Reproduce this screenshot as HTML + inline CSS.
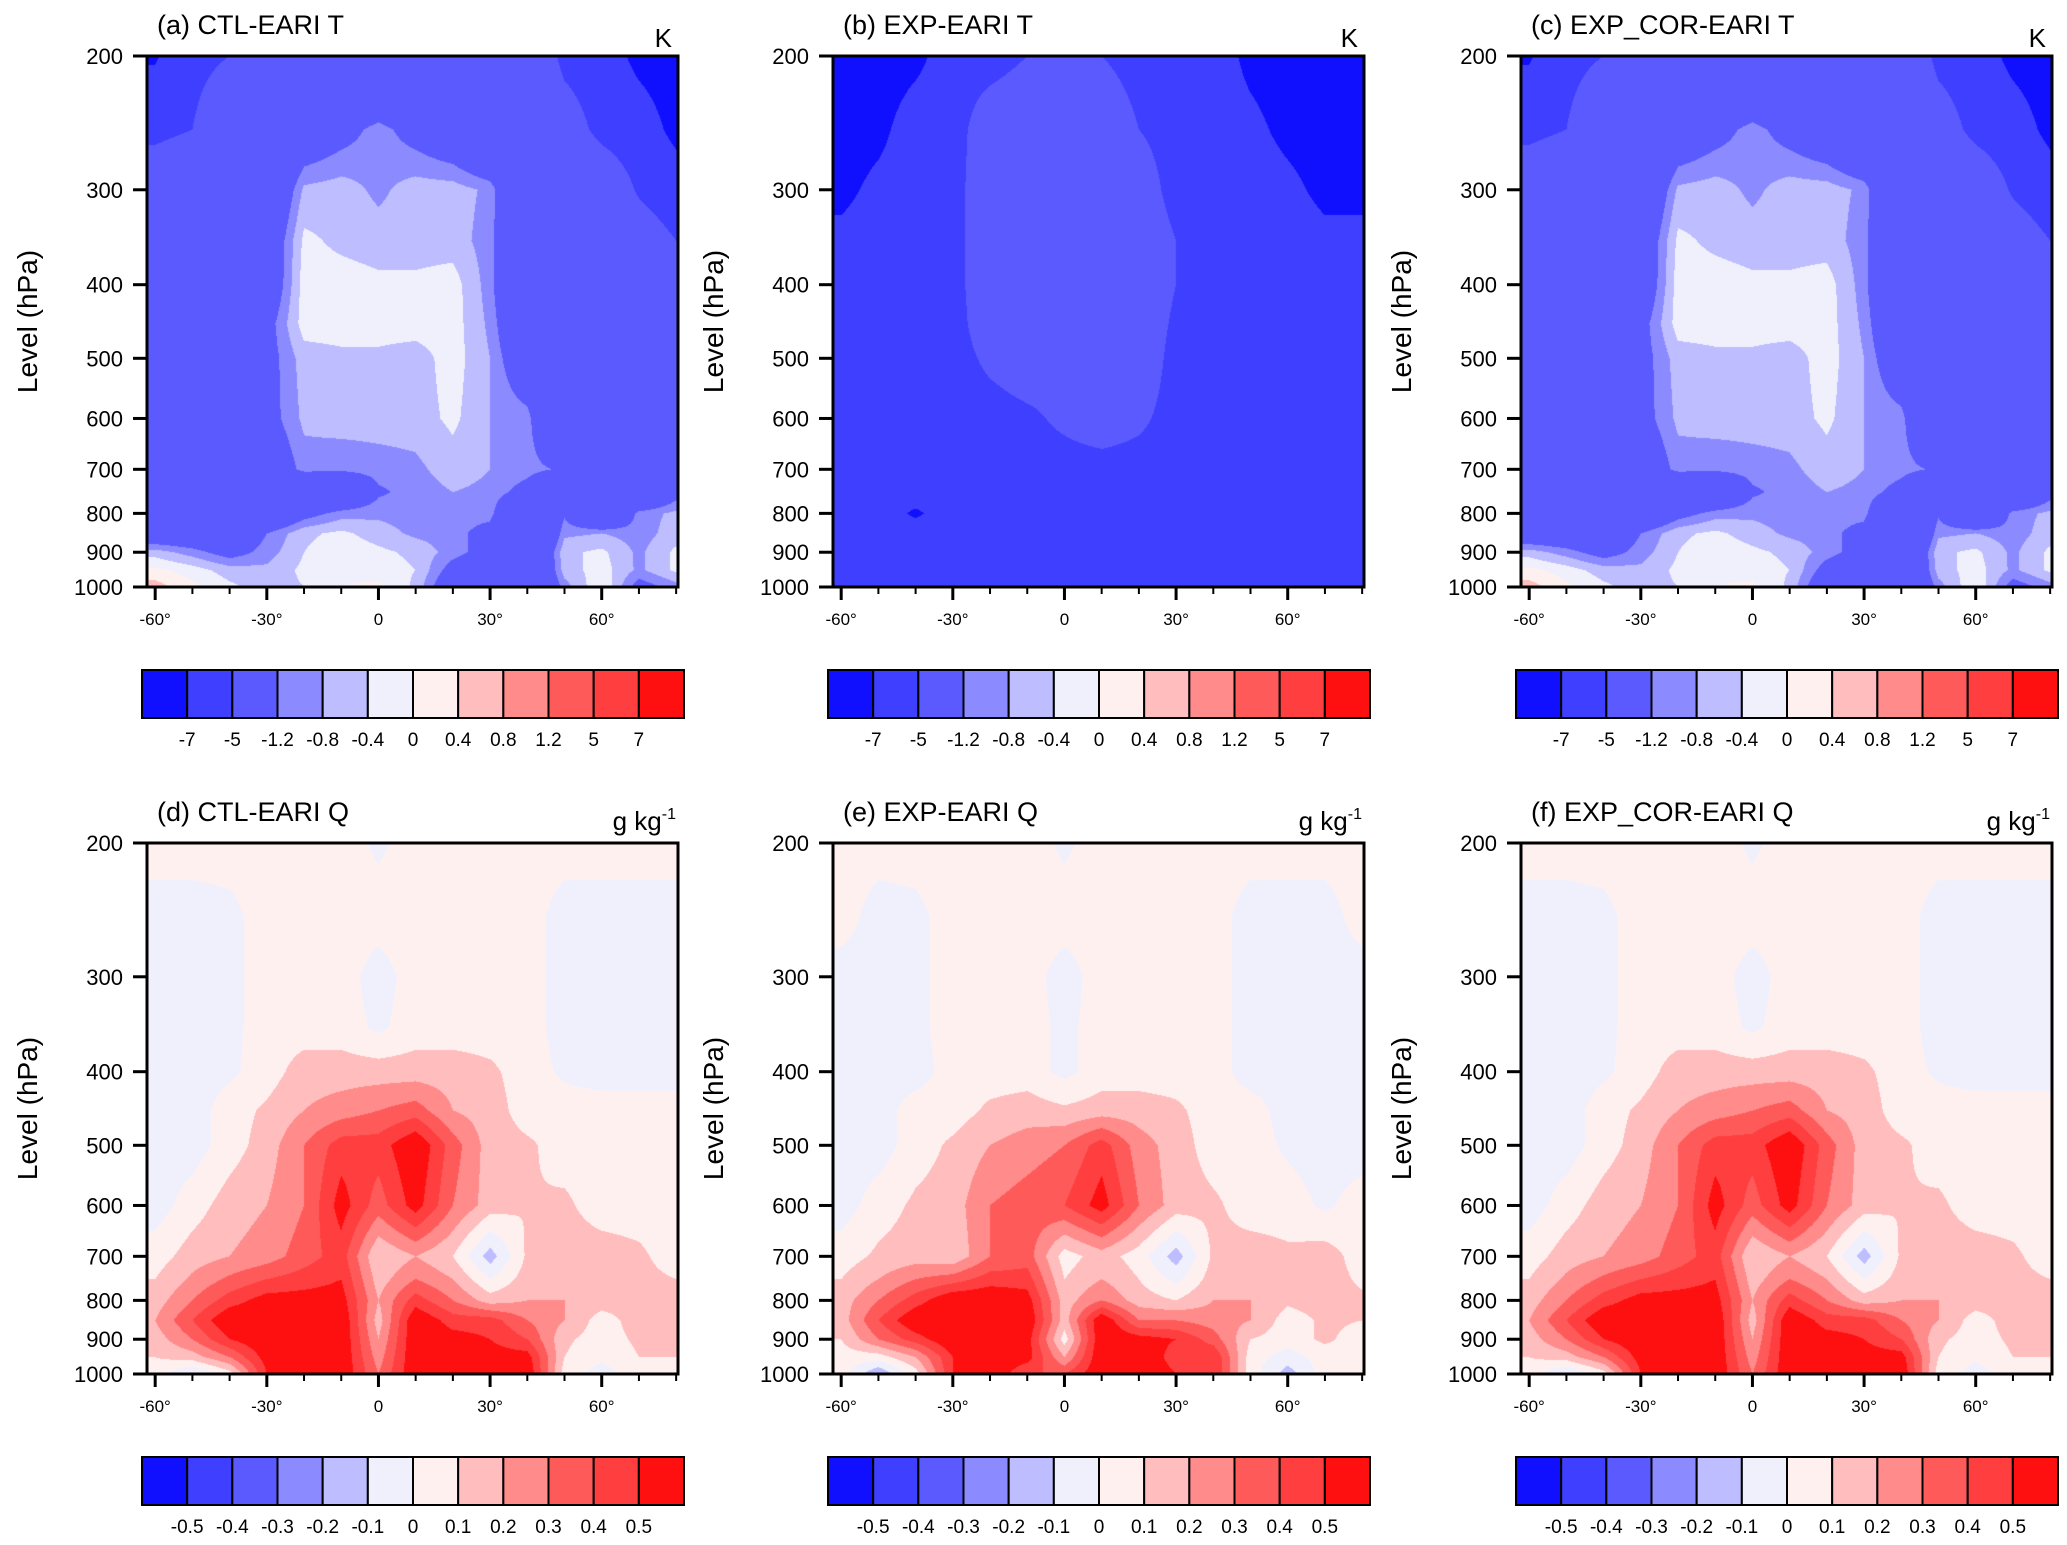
<!DOCTYPE html>
<html><head><meta charset="utf-8">
<style>
html,body{margin:0;padding:0;background:#fff;}
#root{position:relative;width:2067px;height:1545px;overflow:hidden;font-family:"Liberation Sans",sans-serif;}
canvas{position:absolute;}
svg{position:absolute;left:0;top:0;}
</style></head>
<body>
<div id="root">
<svg id="ov" width="2067" height="1545"></svg>
</div>
<script>
// ---------- data ----------
const lons = [-60,-50,-40,-30,-20,-10,0,10,20,30,40,50,60,70,80];
const levels = [200,250,300,350,400,450,500,600,700,750,800,850,900,950,1000];
const yTicks = [200,300,400,500,600,700,800,900,1000];
const xTickMajor = [-60,-30,0,30,60];
const xTickLabels = ["-60°","-30°","0","30°","60°"];
const tBounds = [-7,-5,-1.2,-0.8,-0.4,0,0.4,0.8,1.2,5,7];
const tLabels = ["-7","-5","-1.2","-0.8","-0.4","0","0.4","0.8","1.2","5","7"];
const qBounds = [-0.5,-0.4,-0.3,-0.2,-0.1,0,0.1,0.2,0.3,0.4,0.5];
const qLabels = ["-0.5","-0.4","-0.3","-0.2","-0.1","0","0.1","0.2","0.3","0.4","0.5"];
const colors = ["#1010ff","#3f3fff","#5a5aff","#8b8bff","#bdbdff","#f0f0fc","#fff0f0","#ffbdbd","#ff8b8b","#ff5a5a","#ff3f3f","#ff1010"];

const fieldA = [
[-7.2,-5.5,-5,-3,-3,-3,-3,-3,-3,-3,-3,-5.5,-6,-7.5,-8],
[-5.5,-5,-3.5,-3,-2,-1.5,-1,-1.5,-2,-3,-3,-4,-5.5,-6,-7.5],
[-3.5,-3,-3,-2.5,-0.7,-0.6,-0.9,-0.6,-0.6,-0.9,-3,-3,-3.5,-5.2,-6],
[-3,-3,-3,-2,-0.3,-0.5,-0.6,-0.6,-0.6,-1,-3,-3,-3,-4,-5],
[-3,-3,-3,-2,-0.2,-0.2,-0.3,-0.3,-0.2,-1,-3,-3,-3,-3.5,-4.5],
[-3,-3,-3,-1.5,-0.2,-0.2,-0.2,-0.2,-0.2,-0.9,-2.5,-3,-3,-3,-4],
[-3,-3,-3,-1.5,-0.6,-0.5,-0.5,-0.6,-0.2,-0.8,-2,-3,-3,-3,-3.5],
[-3,-3,-3,-1.5,-0.7,-0.6,-0.6,-0.6,-0.3,-0.8,-1,-3,-3,-3,-3],
[-3,-3,-3,-2,-1,-1.1,-1,-0.9,-0.6,-0.8,-1,-1.3,-3,-3,-2],
[-3,-3,-3,-3,-3,-2.5,-1.3,-1,-0.8,-0.9,-1.5,-3,-3,-3,-1.5],
[-3,-3,-3,-2.5,-1.5,-1,-0.9,-1,-1,-1,-3,-1.3,-3,-1,-0.7],
[-2,-2,-2,-1.2,-0.5,-0.3,-0.6,-0.9,-1,-1.5,-3.5,-0.9,-0.8,-1,-0.6],
[-0.6,-1,-1.5,-1,-0.4,-0.1,-0.3,-0.5,-1,-1.5,-3,-0.5,-0.3,-0.9,-0.3],
[0.1,-0.2,-0.6,-0.7,-0.3,-0.1,-0.2,-0.4,-1.5,-2,-3,-0.6,-0.2,-0.9,-0.3],
[0.6,0.1,-0.3,-0.6,-0.4,0,0.1,-0.5,-2,-3,-3,-1,0,-1.5,-1]];

const fieldB = [
[-8,-8,-7.5,-6,-6,-5,-4,-5,-6,-6,-6,-7.5,-8,-8,-8],
[-8,-7.5,-6,-6,-3.5,-3,-3,-3,-5,-6,-6,-6.5,-7.5,-8,-8],
[-7.5,-6.5,-6,-6,-3,-3,-3,-3,-3.5,-6,-6,-6,-6.5,-7.5,-7.5],
[-6.5,-6,-6,-6,-3,-3,-3,-3,-3,-5,-6,-6,-6,-6.5,-6.5],
[-6,-6,-6,-6,-3,-3,-3,-3,-3,-5,-6,-6,-6,-6,-6],
[-6,-6,-6,-6,-3.5,-3,-3,-3,-3,-5.5,-6,-6,-6,-6,-6],
[-6,-6,-6,-6,-4.5,-3.5,-4,-3,-3,-6,-6,-6,-6,-6,-6],
[-6,-6,-6,-6,-6,-5.5,-4.5,-3.5,-4.5,-6,-6,-6,-6,-6,-6],
[-6,-6,-6,-6,-6,-6,-6,-6,-6,-6,-6,-6,-6,-6,-6],
[-6,-6,-6,-6,-6,-6,-6,-6,-6,-6,-6,-6,-6,-6,-6],
[-6,-6,-7.3,-6,-6,-6,-6,-6,-6,-6,-6,-6,-6,-6,-5.5],
[-6,-6,-6,-6,-6,-6,-6,-6,-6,-6,-6,-6,-6,-6,-5.5],
[-6,-6,-6,-6,-6,-6,-6,-6,-6,-6,-6,-6,-6,-6,-5.5],
[-6,-6,-6,-6,-6,-6,-6,-6,-6,-6,-6,-6,-6,-6,-5.5],
[-6,-6,-6,-6,-6,-6,-6,-6,-6,-6.5,-6,-6,-6.5,-6,-6]];

const fieldD = [
[0.05,0.05,0.05,0.05,0.05,0.05,-0.02,0.05,0.05,0.05,0.05,0.05,0.05,0.05,0.05],
[-0.05,-0.05,-0.03,0.05,0.05,0.05,0.05,0.05,0.05,0.05,0.05,-0.05,-0.05,-0.05,-0.05],
[-0.05,-0.05,-0.03,0.05,0.05,0.05,-0.05,0.05,0.05,0.05,0.05,-0.05,-0.05,-0.05,-0.05],
[-0.05,-0.05,-0.03,0.05,0.05,0.05,-0.02,0.05,0.05,0.05,0.05,-0.05,-0.05,-0.05,-0.05],
[-0.05,-0.05,-0.02,0.05,0.15,0.15,0.15,0.15,0.15,0.12,0.05,-0.02,-0.05,-0.05,-0.05],
[-0.05,-0.05,0.05,0.12,0.2,0.25,0.3,0.35,0.2,0.15,0.05,0.05,0.05,0.05,0.05],
[-0.05,-0.05,0.05,0.15,0.3,0.45,0.45,0.6,0.35,0.15,0.12,0.05,0.05,0.05,0.05],
[-0.05,0.05,0.15,0.2,0.3,0.55,0.35,0.55,0.3,0.15,0.1,0.12,0.05,0.05,0.05],
[0.05,0.15,0.2,0.25,0.35,0.45,0.1,0.2,0.1,-0.15,0.12,0.15,0.15,0.12,0.05],
[0.1,0.22,0.32,0.4,0.45,0.5,0.15,0.3,0.2,0,0.15,0.17,0.15,0.13,0.1],
[0.15,0.3,0.45,0.55,0.55,0.55,0.2,0.45,0.3,0.15,0.2,0.2,0.15,0.15,0.15],
[0.2,0.4,0.6,0.6,0.6,0.6,0.15,0.6,0.45,0.45,0.3,0.2,0.05,0.15,0.15],
[0.15,0.3,0.5,0.6,0.6,0.6,0.2,0.6,0.55,0.5,0.4,0.12,0.05,0.12,0.12],
[0.1,0.15,0.3,0.55,0.6,0.6,0.25,0.6,0.6,0.55,0.55,0.1,0.02,0.1,0.1],
[0.05,-0.12,0.05,0.5,0.6,0.6,0.3,0.6,0.6,0.5,0.6,0.05,-0.05,0.05,0.05]];

const fieldE = [
[0.05,0.05,0.05,0.05,0.05,0.05,-0.02,0.05,0.05,0.05,0.05,0.05,0.05,0.05,0.05],
[0.05,-0.05,-0.03,0.05,0.05,0.05,0.05,0.05,0.05,0.05,0.05,-0.05,-0.05,-0.05,0.05],
[-0.05,-0.05,-0.03,0.05,0.05,0.05,-0.05,0.05,0.05,0.05,0.05,-0.05,-0.05,-0.05,-0.05],
[-0.05,-0.05,-0.03,0.05,0.05,0.05,-0.03,0.05,0.05,0.05,0.05,-0.05,-0.05,-0.05,-0.05],
[-0.05,-0.05,-0.05,0.05,0.05,0.05,-0.03,0.05,0.05,0.05,0.05,-0.05,-0.05,-0.05,-0.05],
[-0.05,-0.05,0.05,0.05,0.12,0.15,0.12,0.15,0.15,0.12,0.05,0.05,-0.05,-0.05,-0.05],
[-0.05,-0.05,0.05,0.12,0.2,0.25,0.3,0.45,0.25,0.15,0.05,0.05,-0.02,-0.05,-0.05],
[-0.05,0.05,0.12,0.15,0.3,0.35,0.4,0.55,0.3,0.15,0.12,0.05,0.05,-0.02,0.05],
[0.05,0.12,0.15,0.12,0.3,0.35,0.05,0.15,0.05,-0.15,0.12,0.15,0.12,0.15,0.05],
[0.1,0.2,0.3,0.35,0.45,0.45,0.1,0.2,0.1,-0.03,0.15,0.17,0.12,0.15,0.08],
[0.15,0.3,0.45,0.6,0.6,0.55,0.15,0.3,0.15,0.1,0.2,0.2,0.12,0.15,0.12],
[0.15,0.4,0.6,0.6,0.6,0.6,0.15,0.6,0.3,0.3,0.25,0.2,0.05,0.12,0.1],
[0.1,0.3,0.45,0.6,0.6,0.55,0.05,0.6,0.55,0.5,0.35,0.1,0.05,0.12,0.05],
[0.05,0.05,0.2,0.5,0.6,0.55,0.2,0.6,0.6,0.45,0.5,0.05,-0.05,0.05,0.05],
[0.05,-0.2,0.05,0.5,0.6,0.4,0.4,0.6,0.6,0.5,0.5,0.05,-0.15,0.05,0.05]];

const panelTitles = ["(a) CTL-EARI  T","(b) EXP-EARI  T","(c) EXP_COR-EARI  T","(d) CTL-EARI  Q","(e) EXP-EARI  Q","(f) EXP_COR-EARI Q"];
const panelFields = [fieldA, fieldB, fieldA, fieldD, fieldE, fieldD];

// ---------- layout ----------
const colLeft = [147, 833, 1521];
const rowTop = [56, 843];
const PW = 531, PH = 531;
const LON0 = -62.2, LON1 = 80.5;
const NS = "http://www.w3.org/2000/svg";
const ov = document.getElementById('ov');
const root = document.getElementById('root');

function xScale(lon, left){ return left + (lon - LON0) / (LON1 - LON0) * PW; }
function yScale(p, top){ return top + Math.log(p/200) / Math.log(1000/200) * PH; }

function sv(tag, attrs, parent){
  const e = document.createElementNS(NS, tag);
  for (const k in attrs) e.setAttribute(k, attrs[k]);
  (parent||ov).appendChild(e);
  return e;
}
function txt(x, y, s, size, anchor, parent){
  const t = sv('text', {x:x, y:y, 'font-size':size, 'text-anchor':anchor||'start', fill:'#000', 'font-family':'Liberation Sans, sans-serif'}, parent);
  t.textContent = s;
  return t;
}

function sample(field, lon, p){
  const lp = Math.log(p);
  let i = 0; while (i < lons.length-2 && lon > lons[i+1]) i++;
  let j = 0; while (j < levels.length-2 && lp > Math.log(levels[j+1])) j++;
  let tx = (lon - lons[i])/(lons[i+1]-lons[i]); tx = Math.max(0, Math.min(1, tx));
  let ty = (lp - Math.log(levels[j]))/(Math.log(levels[j+1]) - Math.log(levels[j])); ty = Math.max(0, Math.min(1, ty));
  const a = field[j][i], b = field[j][i+1], c = field[j+1][i], d = field[j+1][i+1];
  return (a*(1-tx)+b*tx)*(1-ty) + (c*(1-tx)+d*tx)*ty;
}
function classOf(v, bounds){ let k = 0; while (k < bounds.length && v >= bounds[k]) k++; return k; }
function hexRGB(h){ return [parseInt(h.substr(1,2),16),parseInt(h.substr(3,2),16),parseInt(h.substr(5,2),16)]; }
const rgb = colors.map(hexRGB);

for (let pi = 0; pi < 6; pi++){
  const col = pi % 3, row = Math.floor(pi/3);
  const left = colLeft[col], top = rowTop[row];
  const bounds = row === 0 ? tBounds : qBounds;
  const labels = row === 0 ? tLabels : qLabels;
  const field = panelFields[pi];

  const cv = document.createElement('canvas');
  cv.width = PW; cv.height = PH;
  cv.style.left = left + 'px'; cv.style.top = top + 'px';
  
  
  root.insertBefore(cv, ov);
  const ctx = cv.getContext('2d');
  const img = ctx.createImageData(PW, PH);
  for (let y = 0; y < PH; y++){
    const p = 200 * Math.exp((y+0.5)/PH * Math.log(5));
    for (let x = 0; x < PW; x++){
      const lon = LON0 + (x+0.5)/PW * (LON1-LON0);
      const c = rgb[classOf(sample(field, lon, p), bounds)];
      const o = (y*PW + x)*4;
      img.data[o]=c[0]; img.data[o+1]=c[1]; img.data[o+2]=c[2]; img.data[o+3]=255;
    }
  }
  ctx.putImageData(img, 0, 0);

  const g = sv('g', {});
  
  

  const fr = sv('rect', {x:left, y:top, width:PW, height:PH, fill:'none', stroke:'#000', 'stroke-width':3}, g);
  
  

  const tt = txt(left + 10, top - 22, panelTitles[pi], 27, 'start', g);
  
  
  if (row === 0){
    const u = txt(left + PW - 6, top - 9, 'K', 26, 'end', g);
    
    
  } else {
    const u = sv('text', {x:left+PW-2, y:top-13, 'font-size':26, 'text-anchor':'end', 'font-family':'Liberation Sans, sans-serif'}, g);
    
    
    u.innerHTML = 'g kg<tspan font-size="16" dy="-11">-1</tspan>';
  }

  yTicks.forEach(p => {
    const y = yScale(p, top);
    sv('line', {x1:left-14, x2:left, y1:y, y2:y, stroke:'#000', 'stroke-width':3}, g);
    const t = txt(left - 24, y + 8, String(p), 22, 'end', g);
    
    
  });
  const yl = txt(0, 0, 'Level (hPa)', 28, 'middle', g);
  yl.setAttribute('transform', `translate(${left-110},${top+PH/2}) rotate(-90)`);
  
  

  for (let lon = -60; lon <= 80; lon += 10){
    const x = xScale(lon, left);
    const major = xTickMajor.indexOf(lon) >= 0;
    sv('line', {x1:x, x2:x, y1:top+PH, y2:top+PH+(major?13:7), stroke:'#000', 'stroke-width':major?3:2}, g);
  }
  xTickMajor.forEach((lon, k) => {
    const t = txt(xScale(lon, left), top + PH + 38, xTickLabels[k], 17, 'middle', g);
    
    
  });

  const cbX = left - 5, cbW = 542, cbY = top + PH + 83, cbH = 48;
  const bw = cbW / colors.length;
  const cb = sv('g', {}, g);
  
  
  colors.forEach((c, k) => {
    const r = sv('rect', {x:cbX + k*bw, y:cbY, width:bw, height:cbH, fill:c, stroke:'#000', 'stroke-width':2}, cb);
    
    
  });
  labels.forEach((s, k) => {
    const t = txt(cbX + (k+1)*bw, cbY + cbH + 28, s, 19, 'middle', cb);
    
    
  });
}
</script>
</body></html>
